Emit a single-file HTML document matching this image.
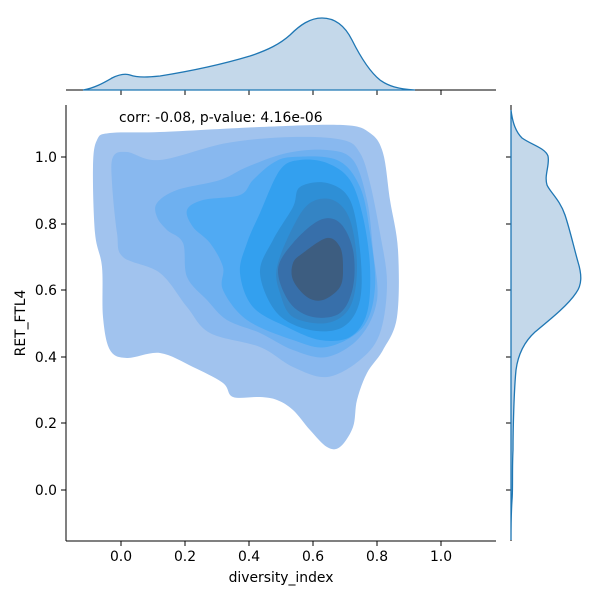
<!DOCTYPE html>
<html><head><style>body{margin:0;background:#fff}svg{display:block}text{font-family:"DejaVu Sans","Liberation Sans",sans-serif;font-size:13.9px;fill:#000}</style></head>
<body>
<svg id="s" width="600" height="600" xmlns="http://www.w3.org/2000/svg">
<g id="c" stroke-linejoin="round">
<polygon fill="#a1c3ee" points="97,140 110,133 160,132 260,127 343,125 370,133 383,153 390,200 398,250 397,317 383,350 367,373 357,400 353,427 340,447 327,447 310,430 293,410 277,400 260,397 233,397 223,383 193,367 160,353 127,358 110,350 103,317 102,267 95,233 93,167"/>
<polygon fill="#88b8ef" points="113,157 127,152 160,160 227,143 293,137 343,140 360,153 370,183 380,233 387,283 380,333 360,360 327,377 293,367 260,347 210,333 187,307 160,273 123,257 117,233 112,183"/>
<polygon fill="#6eb0f0" points="157,203 177,190 220,180 247,167 287,153 327,150 353,160 367,200 373,250 377,300 360,337 327,357 293,350 260,333 227,320 207,300 187,277 183,243 167,230 157,217"/>
<polygon fill="#50aaf3" points="187,210 203,200 240,195 253,180 273,163 293,157 337,160 360,187 370,233 375,287 363,327 327,347 293,340 247,320 223,290 223,267 210,243 193,227"/>
<polygon fill="#33a0ef" points="240,273 247,243 260,213 280,170 300,160 327,163 350,180 363,217 370,267 367,313 350,337 320,340 287,327 253,307"/>
<polygon fill="#2e8fd6" points="260,273 273,240 293,207 300,187 327,183 350,200 360,250 360,300 343,327 310,330 277,313"/>
<polygon fill="#3484c4" points="277,267 293,227 310,203 333,200 350,220 357,267 350,307 327,323 293,317 280,293"/>
<polygon fill="#376faa" points="278,270 293,243 320,220 340,223 353,250 353,287 340,313 313,317 290,303"/>
<polygon fill="#3d5d80" points="293,263 303,253 327,238 340,247 343,267 340,287 323,300 307,297 293,280"/>
</g>
<line x1="66" y1="105" x2="66" y2="541" stroke="#000" stroke-width="1"/>
<line x1="66" y1="541" x2="496" y2="541" stroke="#000" stroke-width="1"/>
<g stroke="#000">
<line x1="121" y1="541" x2="121" y2="546"/><line x1="185" y1="541" x2="185" y2="546"/><line x1="249" y1="541" x2="249" y2="546"/><line x1="313" y1="541" x2="313" y2="546"/><line x1="377" y1="541" x2="377" y2="546"/><line x1="441" y1="541" x2="441" y2="546"/>
<line x1="61" y1="157" x2="66" y2="157"/><line x1="61" y1="224" x2="66" y2="224"/><line x1="61" y1="290" x2="66" y2="290"/><line x1="61" y1="357" x2="66" y2="357"/><line x1="61" y1="423" x2="66" y2="423"/><line x1="61" y1="490" x2="66" y2="490"/>
<line x1="511" y1="157" x2="506" y2="157"/><line x1="511" y1="224" x2="506" y2="224"/><line x1="511" y1="290" x2="506" y2="290"/><line x1="511" y1="357" x2="506" y2="357"/><line x1="511" y1="423" x2="506" y2="423"/><line x1="511" y1="490" x2="506" y2="490"/>
<line x1="121" y1="90" x2="121" y2="95"/><line x1="185" y1="90" x2="185" y2="95"/><line x1="249" y1="90" x2="249" y2="95"/><line x1="313" y1="90" x2="313" y2="95"/><line x1="377" y1="90" x2="377" y2="95"/><line x1="441" y1="90" x2="441" y2="95"/>
</g>
<g text-anchor="middle">
<text x="121" y="561">0.0</text><text x="185" y="561">0.2</text><text x="249" y="561">0.4</text><text x="313" y="561">0.6</text><text x="377" y="561">0.8</text><text x="441" y="561">1.0</text>
<text x="281" y="582">diversity_index</text>
</g>
<g text-anchor="end">
<text x="57" y="162">1.0</text><text x="57" y="229">0.8</text><text x="57" y="295">0.6</text><text x="57" y="362">0.4</text><text x="57" y="428">0.2</text><text x="57" y="495">0.0</text>
</g>
<text x="25" y="323" text-anchor="middle" transform="rotate(-90 25 323)">RET_FTL4</text>
<text x="119" y="122">corr: -0.08, p-value: 4.16e-06</text>
<line x1="66" y1="90" x2="496" y2="90" stroke="#000"/>
<path d="M83,90 C95,88 105,82 112,78 C118,75 124,73 130,75 C138,78 150,77 160,76 C185,72 220,65 250,56 C268,50 280,44 290,35 C300,25 310,18 322,18 C335,18 345,26 352,40 C360,56 370,72 380,80 C388,86 398,89 415,90 Z" fill="#c4d8ea" stroke="#1f77b4" stroke-width="1.3"/>
<line x1="511" y1="105" x2="511" y2="541" stroke="#000"/>
<path d="M511,110 C512,118 514,130 522,138 C532,145 545,148 548,156 C550,165 544,175 547,185 C550,192 560,200 565,215 C570,230 574,248 578,262 C582,275 582,285 576,293 C568,305 552,318 535,332 C524,342 518,355 516,370 C514,390 513,430 513,450 C512,470 513,490 512,500 C511,515 511,530 511,540 Z" fill="#c4d8ea" stroke="#1f77b4" stroke-width="1.3"/>
</svg>
<script>
document.querySelectorAll('#c polygon').forEach(function(p){
 var pts=p.getAttribute('points').trim().split(/\s+/).map(function(s){return s.split(',').map(Number)});
 var n=pts.length,d='M'+pts[0][0]+','+pts[0][1];
 for(var i=0;i<n;i++){
  var p0=pts[(i-1+n)%n],p1=pts[i],p2=pts[(i+1)%n],p3=pts[(i+2)%n];
  var c1=[p1[0]+(p2[0]-p0[0])/6,p1[1]+(p2[1]-p0[1])/6],c2=[p2[0]-(p3[0]-p1[0])/6,p2[1]-(p3[1]-p1[1])/6];
  d+=' C'+c1[0]+','+c1[1]+' '+c2[0]+','+c2[1]+' '+p2[0]+','+p2[1];
 }
 var e=document.createElementNS('http://www.w3.org/2000/svg','path');
 e.setAttribute('d',d+'Z');e.setAttribute('fill',p.getAttribute('fill'));
 p.parentNode.replaceChild(e,p);
});
</script>
</body></html>
